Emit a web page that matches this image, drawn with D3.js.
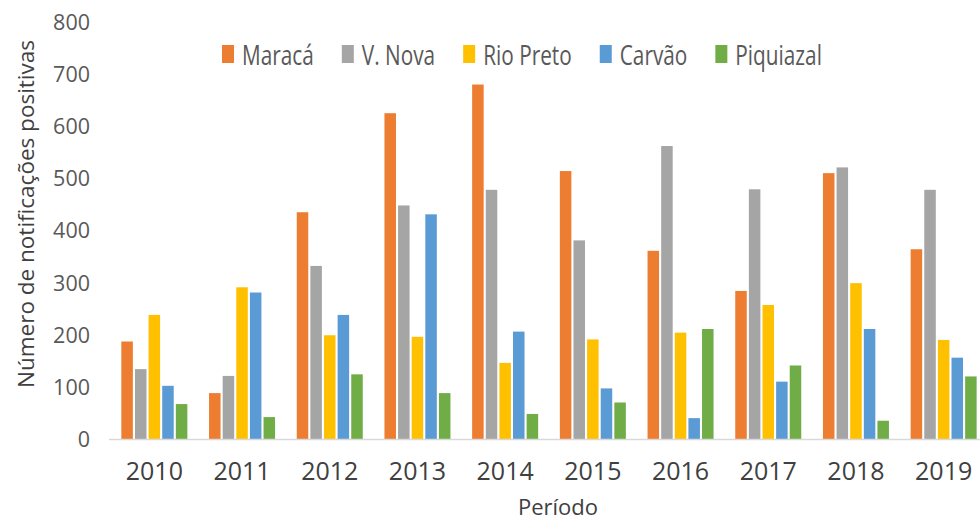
<!DOCTYPE html>
<html>
<head>
<meta charset="utf-8">
<script src="https://cdn.jsdelivr.net/npm/d3@7"></script>
<style>
  body { margin: 0; background: #fff; }
  svg { display: block; }
</style>
</head>
<body>
<svg id="chart" width="980" height="522"></svg>
<script>
// Categories and series
const years = ["2010", "2011", "2012", "2013", "2014", "2015", "2016", "2017", "2018", "2019"];
const seriesNames = ["Maracá", "V. Nova", "Rio Preto", "Carvão", "Piquiazal"];

// Values
const maraca    = [188, 89, 436, 626, 681, 515, 362, 285, 511, 365];
const vNova     = [135, 122, 333, 449, 479, 382, 563, 480, 522, 479];
const rioPreto  = [239, 292, 200, 197, 147, 192, 205, 258, 300, 191];
const carvao    = [103, 282, 239, 432, 207, 98, 41, 111, 212, 157];
const piquiazal = [68, 43, 125, 89, 49, 71, 212, 142, 36, 121];

const yTicks = [0, 100, 200, 300, 400, 500, 600, 700, 800];

const colors = ["#ED7D31", "#A5A5A5", "#FFC000", "#5B9BD5", "#70AD47"];
const allSeries = [maraca, vNova, rioPreto, carvao, piquiazal];

const svg = d3.select("#chart");

// Scales
const x0 = d3.scaleBand().domain(years).range([110.5, 987.5]);
const groupWidth = 66;
const x1 = d3.scaleBand().domain(seriesNames).range([0, groupWidth]).paddingInner(0.155);
const y = d3.scaleLinear().domain([0, 800]).range([439.5, 22.5]);
const color = d3.scaleOrdinal().domain(seriesNames).range(colors);

// Y axis labels (no line, no ticks)
const yAxis = svg.append("g")
    .attr("transform", "translate(90,0)")
    .call(d3.axisLeft(y).tickValues(yTicks).tickSize(0).tickPadding(0));
yAxis.select(".domain").remove();
yAxis.selectAll("text")
    .attr("font-family", "'Open Sans', 'Noto Sans', sans-serif")
    .attr("font-size", 21.5)
    .attr("fill", "#595959");

// Bars
const rows = years.map((yr, i) => ({ year: yr, values: seriesNames.map((s, j) => ({ key: s, value: allSeries[j][i] })) }));

const groups = svg.append("g").selectAll("g")
    .data(rows)
    .join("g")
    .attr("transform", d => `translate(${x0(d.year) + (x0.bandwidth() - groupWidth) / 2},0)`);

groups.selectAll("rect")
    .data(d => d.values)
    .join("rect")
    .attr("x", d => x1(d.key))
    .attr("width", x1.bandwidth())
    .attr("y", d => y(d.value))
    .attr("height", d => y(0) - y(d.value))
    .attr("fill", d => color(d.key));

// X axis (baseline + labels)
const xAxis = svg.append("g")
    .attr("transform", `translate(0,${y(0)})`)
    .call(d3.axisBottom(x0).tickSize(0).tickPadding(23));
xAxis.select(".domain")
    .attr("stroke", "#D9D9D9")
    .attr("stroke-width", 1.5)
    .attr("d", `M109,0H980`);
xAxis.selectAll("text")
    .attr("font-family", "'Open Sans', 'Noto Sans', sans-serif")
    .attr("font-size", 25)
    .attr("fill", "#404040");

// Axis titles
svg.append("text")
    .attr("transform", "translate(34,214) rotate(-90)")
    .attr("text-anchor", "middle")
    .attr("font-family", "'Open Sans', 'Noto Sans', sans-serif")
    .attr("font-size", 22.5)
    .attr("fill", "#404040")
    .text("Número de notificações positivas");

svg.append("text")
    .attr("x", 558)
    .attr("y", 515)
    .attr("text-anchor", "middle")
    .attr("font-family", "'Open Sans', 'Noto Sans', sans-serif")
    .attr("font-size", 22)
    .attr("fill", "#404040")
    .text("Período");

// Legend (condensed look via textLength)
const legend = svg.append("g");
let lx = 222;
seriesNames.forEach(name => {
    legend.append("rect")
        .attr("x", lx)
        .attr("y", 45)
        .attr("width", 12)
        .attr("height", 18)
        .attr("fill", color(name));
    const t = legend.append("text")
        .attr("x", lx + 20)
        .attr("y", 64.5)
        .attr("font-family", "'Open Sans', 'Noto Sans', sans-serif")
        .attr("font-size", 27)
        .attr("fill", "#595959")
        .text(name);
    const w = t.node().getComputedTextLength() * 0.77;
    t.attr("textLength", w).attr("lengthAdjust", "spacingAndGlyphs");
    lx += 20 + w + 28;
});
</script>
</body>
</html>
